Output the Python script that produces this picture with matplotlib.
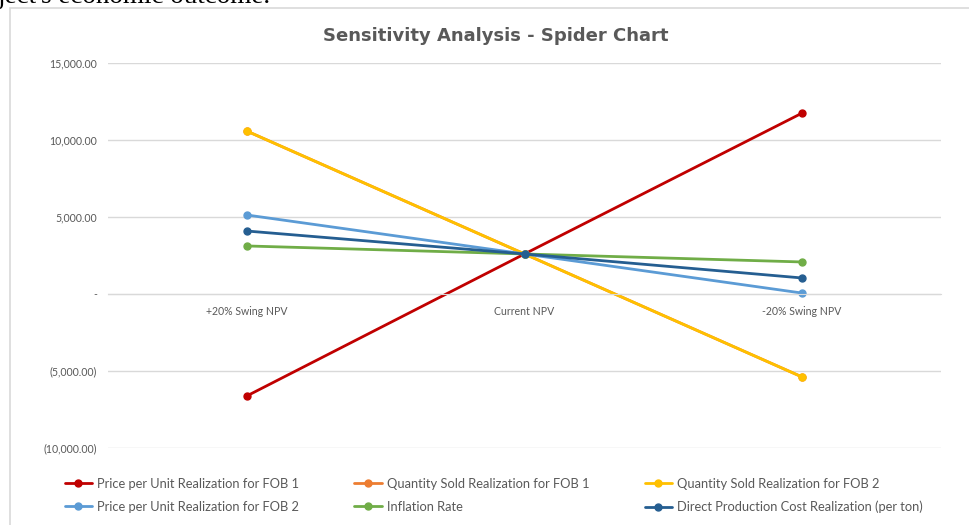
import matplotlib.pyplot as plt
from matplotlib.patches import Rectangle
from matplotlib.ticker import FuncFormatter

# swing scenarios on the category axis
scenarios = ["+20% Swing NPV", "Current NPV", "-20% Swing NPV"]

# NPV per driver under each scenario
price_fob1 = [-6620, 2600, 11750]
qty_fob1 = [10580, 2600, -5390]
qty_fob2 = [10580, 2600, -5390]
price_fob2 = [5130, 2600, 60]
inflation = [3120, 2600, 2080]
prod_cost = [4090, 2600, 1040]

series = [
    ("Price per Unit Realization for FOB 1", price_fob1, "#C00000"),
    ("Quantity Sold Realization for FOB 1", qty_fob1, "#ED7D31"),
    ("Quantity Sold Realization for FOB 2", qty_fob2, "#FFC000"),
    ("Price per Unit Realization for FOB 2", price_fob2, "#5B9BD5"),
    ("Inflation Rate", inflation, "#70AD47"),
    ("Direct Production Cost Realization (per ton)", prod_cost, "#255E91"),
]

grey = "#595959"
grid = "#d9d9d9"


def acct(v, pos):
    if abs(v) < 1e-9:
        return "-"
    if v < 0:
        return "({:,.2f})".format(-v)
    return "{:,.2f}".format(v)


fig = plt.figure(figsize=(9.7, 5.25), dpi=100)
ax = fig.add_axes([108 / 970, 1 - 448 / 525, 833 / 970, 385 / 525])

x = range(len(scenarios))
handles = []
for name, vals, col in series:
    h, = ax.plot(x, vals, color=col, lw=2.0, marker="o", ms=5, label=name,
                 solid_capstyle="round")
    handles.append(h)

ax.set_xlim(-0.5, len(scenarios) - 0.5)
ax.set_ylim(-10000, 15000)
ax.set_yticks(range(-10000, 15001, 5000))
ax.yaxis.set_major_formatter(FuncFormatter(acct))
ax.yaxis.grid(True, color=grid, lw=1)
ax.set_axisbelow(True)

for s in ["top", "right", "left"]:
    ax.spines[s].set_visible(False)
ax.spines["bottom"].set_position(("data", 0))
ax.spines["bottom"].set_color(grid)
ax.set_xticks(list(x))
ax.set_xticklabels(scenarios)
ax.tick_params(axis="both", length=0, colors=grey, labelsize=7.6)
ax.tick_params(axis="y", pad=8)
ax.tick_params(axis="x", pad=8.5)
for lab in ax.get_xticklabels() + ax.get_yticklabels():
    lab.set_family("Lato")

fig.text(496 / 970, 1 - 36 / 525, "Sensitivity Analysis - Spider Chart",
         ha="center", va="center", fontsize=13, fontweight="bold", color=grey,
         family="DejaVu Sans")

# legend rows: matplotlib fills column by column
order = [0, 3, 1, 4, 2, 5]
leg = fig.legend([handles[i] for i in order], [series[i][0] for i in order],
                 ncol=3, loc="upper left", bbox_to_anchor=(53 / 970, 1 - 466 / 525),
                 frameon=False, prop={"family": "Lato", "size": 9.3},
                 handlelength=2.1, handletextpad=0.4, columnspacing=4.3,
                 labelspacing=0.85)
for t in leg.get_texts():
    t.set_color(grey)

# chart frame and the cut-off line of body text above it
fig.add_artist(Rectangle((10 / 970, -0.1), 2, 1 - 8 / 525 + 0.1,
                         transform=fig.transFigure, fill=False,
                         edgecolor=grid, lw=1.2))
fig.text(-0.002, 1 - 3 / 525, "ject's economic outcome.", ha="left",
         va="baseline", fontsize=19.5, family="Liberation Serif", color="black")

fig.savefig("out.png", dpi=100)
